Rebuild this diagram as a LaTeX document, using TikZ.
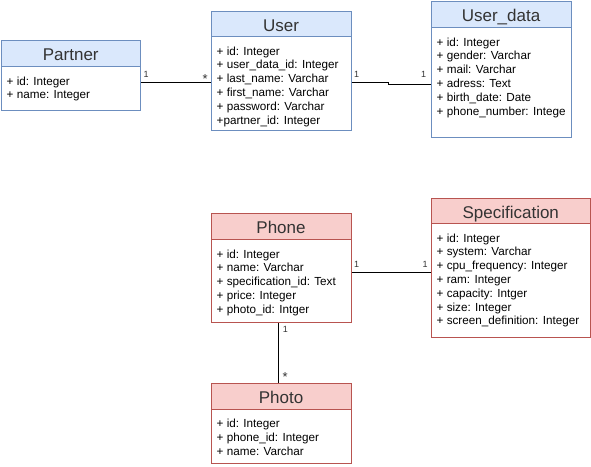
\documentclass[tikz,border=0pt]{standalone}
\usepackage{fontspec}
\setmainfont{Liberation Sans}
\usetikzlibrary{calc}
\definecolor{bfill}{HTML}{DAE8FC}
\definecolor{bline}{HTML}{6C8EBF}
\definecolor{rfill}{HTML}{F8CECC}
\definecolor{rline}{HTML}{B85450}
\definecolor{ttl}{HTML}{333333}
\tikzset{
  clsbox/.style={draw, fill=white, line width=1pt, inner sep=0pt, anchor=north west},
  clshead/.style={draw, line width=1pt, inner sep=0pt, anchor=north west, text=ttl,
    font=\fontsize{17}{20}\selectfont, text height=18.67pt, text depth=4pt},
  attr/.style={anchor=base west, inner sep=0pt, font=\fontsize{11.7}{14}\selectfont},
  conn/.style={draw, line width=1pt},
  lbl/.style={inner sep=0pt, anchor=base west, font=\fontsize{9}{11}\selectfont, text=ttl},
  star/.style={inner sep=0pt, anchor=base west, font=\fontsize{13}{15}\selectfont, text=ttl}
}
\newcommand\umlclass[9]{%
  \node[clsbox, draw=#7line, minimum width=#4pt, minimum height=#5pt] (#1) at (#2,#3) {};
  \node[clshead, draw=#7line, fill=#7fill, minimum width=#4pt, minimum height=#6pt] (#1-h) at (#2,#3) {#8};
  \foreach \t [count=\i] in {#9}
    \node[attr] (#1-\i) at ($(#1-h.south west)+(6,{18+(\i-1)*13.8})$) {\t};
}
\begin{document}
\begin{tikzpicture}[x=1pt,y=-1pt]
\useasboundingbox[fill=white] (0,0) rectangle (591,466);

\umlclass{partner}{0.5}{40}{139.5}{70}{26}{b}{Partner}{+ id: Integer, + name: Integer}
\umlclass{user}{210.5}{10.5}{140}{119.5}{25.5}{b}{User}{+ id: Integer, + user\_data\_id: Integer, + last\_name: Varchar, + first\_name: Varchar, + password: Varchar, +partner\_id: Integer}
\umlclass{udata}{430.5}{1}{140}{136}{26}{b}{User\_data}{+ id: Integer, + gender: Varchar, + mail: Varchar, + adress: Text, + birth\_date: Date, + phone\_number: Intege}
\umlclass{phone}{210.5}{212.5}{140}{109.5}{26.5}{r}{Phone}{+ id: Integer, + name: Varchar, + specification\_id: Text, + price: Integer, + photo\_id: Intger}
\umlclass{spec}{430.5}{198}{159.5}{138.5}{25}{r}{Specification}{+ id: Integer, + system: Varchar, + cpu\_frequency: Integer, + ram: Integer, + capacity: Intger, + size: Integer, + screen\_definition: Integer}
\umlclass{photo}{210.5}{382.5}{140}{80}{26}{r}{Photo}{+ id: Integer, + phone\_id: Integer, + name: Varchar}

% Partner - User
\draw[conn] (partner.east |- 0,82) -- (user.west |- 0,82);
\node[lbl] (l1) at (143.5,77.7) {1};
\node[star] (l2) at (202.3,83.9) {*};

% User - User_data
\coordinate (jog) at (388,82.5);
\draw[conn] (user.east |- jog) -- (jog) -- (jog |- 0,84) -- (udata.west |- 0,84);
\node[lbl] (l3) at (354,77.7) {1};
\node[lbl] (l4) at (421,77.7) {1};

% Phone - Specification
\draw[conn] (phone.east |- 0,272) -- (spec.west |- 0,272);
\node[lbl] (l5) at (354,267.7) {1};
\node[lbl] (l6) at (422.5,267.7) {1};

% Phone - Photo
\draw[conn] (phone.south -| 278.5,0) -- (photo.north -| 278.5,0);
\node[lbl] (l7) at (282.7,332.5) {1};
\node[star] (l8) at (282.3,381.6) {*};
\end{tikzpicture}
\end{document}
